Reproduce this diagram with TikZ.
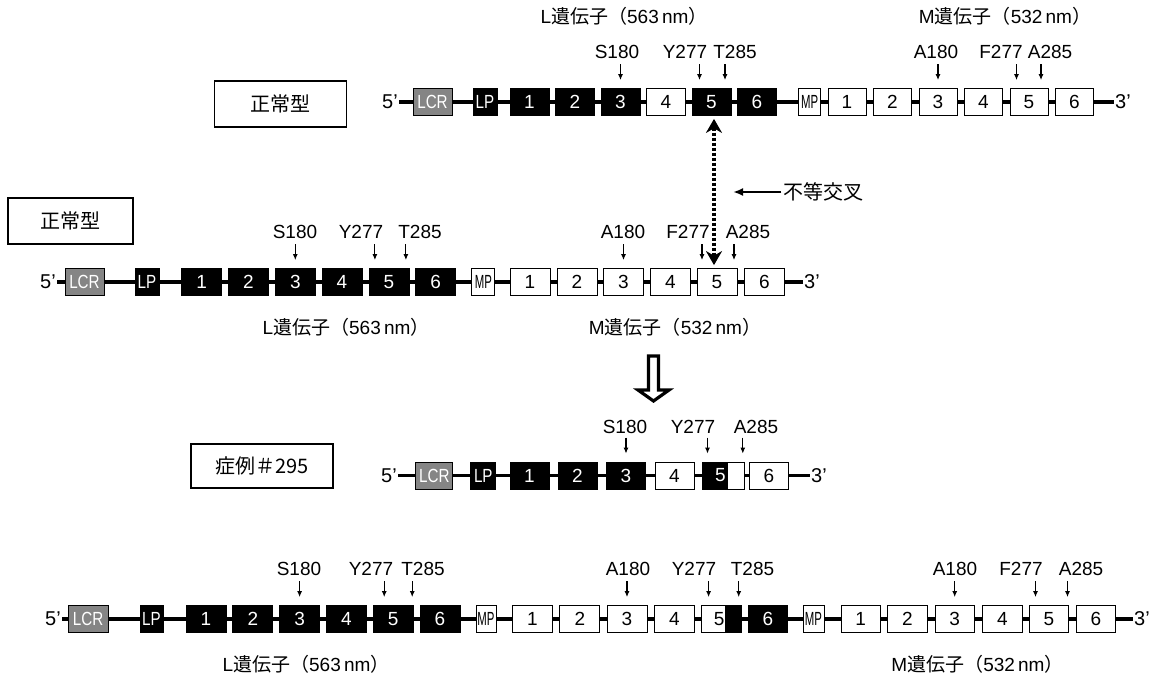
\documentclass[tikz,border=0pt]{standalone}
\usepackage{fontspec}
\setmainfont{Liberation Sans}
\newfontfamily\jp{Noto Sans CJK JP}
\usepackage{graphicx}
\usetikzlibrary{arrows.meta}

\begin{document}
\begin{tikzpicture}[x=1pt,y=-1pt,
  exon/.style={draw,line width=0.8pt,minimum height=27pt,minimum width=39pt,inner sep=0pt,font=\fontsize{19}{19}\selectfont},
  blk/.style={exon,fill=black,text=white},
  wht/.style={exon,fill=white},
  lcr/.style={exon,fill=black!48,text=white},
  bb/.style={line width=3.2pt},
  endtxt/.style={inner sep=1pt,font=\fontsize{20}{20}\selectfont},
  sitetxt/.style={inner sep=0pt,font=\fontsize{19}{19}\selectfont},
  mut/.style={-{Latex[length=6pt,width=5pt]},line width=1.1pt,shorten >=8pt},
  casebox/.style={draw,line width=1.7pt,minimum height=46pt,inner sep=0pt,font=\jp\fontsize{20}{20}\selectfont},
  genetitle/.style={inner sep=0pt,font=\fontsize{19}{19}\selectfont},
  xover/.style={{Stealth[length=14pt,width=16pt]}-{Stealth[length=14pt,width=16pt]},line width=3.2pt,dash pattern=on 3pt off 2pt,shorten <=3pt,shorten >=3pt}]
\useasboundingbox (0,0) rectangle (1156,679);

%上段 正常型
\node[casebox,minimum width=132pt] (tagA) at (280.6,104) {正常型};
\node[genetitle] (aLt) at (624,16) {L{\jp 遺伝子（}563\,nm{\jp ）}};
\node[genetitle] (aMt) at (1005,16) {M{\jp 遺伝子（}532\,nm{\jp ）}};
\node[endtxt,anchor=east] (a5) at (399,102) {5’};
\node[lcr] (alcr) at (432.5,102) {\scalebox{0.8}[1]{LCR}};
\node[blk,minimum width=24pt] (alp) at (485,102) {\scalebox{0.8}[1]{LP}};
\node[blk] (aL1) at (529.5,102) {1};
\node[blk] (aL2) at (575,102) {2};
\node[blk] (aL3) at (620.5,102) {3};
\node[wht] (aL4) at (666,102) {4};
\node[blk] (aL5) at (711.5,102) {5};
\node[blk] (aL6) at (757,102) {6};
\node[wht,minimum width=22pt] (amp) at (809.6,102) {\scalebox{0.6}[1]{MP}};
\node[wht,minimum width=38pt] (aM1) at (847,102) {1};
\node[wht,minimum width=38pt] (aM2) at (892.5,102) {2};
\node[wht,minimum width=38pt] (aM3) at (938,102) {3};
\node[wht,minimum width=38pt] (aM4) at (983.5,102) {4};
\node[wht,minimum width=38pt] (aM5) at (1029,102) {5};
\node[wht,minimum width=38pt] (aM6) at (1074.5,102) {6};
\node[endtxt,anchor=west] (a3) at (1114,102) {3’};
\draw[bb] (a5)--(alcr)--(alp)--(aL1)--(aL2)--(aL3)--(aL4)--(aL5)--(aL6)--(amp)--(aM1)--(aM2)--(aM3)--(aM4)--(aM5)--(aM6)--(a3);

%変異部位
\node[sitetxt] (aS180) at (617,52) {S180};
\node[sitetxt] (aY277) at (685,52) {Y277};
\node[sitetxt] (aT285) at (735,52) {T285};
\node[sitetxt] (aA180) at (936,52) {A180};
\node[sitetxt] (aF277) at (1001,52) {F277};
\node[sitetxt] (aA285) at (1050,52) {A285};
\draw[mut] ([yshift=24pt]aL3.north) -- (aL3.north);
\draw[mut] ([xshift=-12pt,yshift=24pt]aL5.north) -- ([xshift=-12pt]aL5.north);
\draw[mut] ([xshift=13.5pt,yshift=24pt]aL5.north) -- ([xshift=13.5pt]aL5.north);
\draw[mut] ([yshift=24pt]aM3.north) -- (aM3.north);
\draw[mut] ([xshift=-12.5pt,yshift=24pt]aM5.north) -- ([xshift=-12.5pt]aM5.north);
\draw[mut] ([xshift=12pt,yshift=24pt]aM5.north) -- ([xshift=12pt]aM5.north);

%二段目 正常型
\node[casebox,minimum width=125pt] (tagB) at (70.5,221) {正常型};
\node[endtxt,anchor=east] (b5) at (57,282) {5’};
\node[lcr] (blcr) at (84.5,282) {\scalebox{0.8}[1]{LCR}};
\node[blk,minimum width=24pt] (blp) at (147,282) {\scalebox{0.8}[1]{LP}};
\node[blk,minimum width=40pt] (bL1) at (201.7,282) {1};
\node[blk,minimum width=40pt] (bL2) at (248.5,282) {2};
\node[blk,minimum width=40pt] (bL3) at (295.3,282) {3};
\node[blk,minimum width=40pt] (bL4) at (342,282) {4};
\node[blk,minimum width=40pt] (bL5) at (388.9,282) {5};
\node[blk,minimum width=40pt] (bL6) at (435.7,282) {6};
\node[wht,minimum width=23pt] (bmp) at (483.3,282) {\scalebox{0.6}[1]{MP}};
\node[wht,minimum width=40pt] (bM1) at (530,282) {1};
\node[wht,minimum width=40pt] (bM2) at (577,282) {2};
\node[wht,minimum width=40pt] (bM3) at (623.5,282) {3};
\node[wht,minimum width=40pt] (bM4) at (670.5,282) {4};
\node[wht,minimum width=40pt] (bM5) at (717,282) {5};
\node[wht,minimum width=40pt] (bM6) at (764.5,282) {6};
\node[endtxt,anchor=west] (b3) at (803,282) {3’};
\draw[bb] (b5)--(blcr)--(blp)--(bL1)--(bL2)--(bL3)--(bL4)--(bL5)--(bL6)--(bmp)--(bM1)--(bM2)--(bM3)--(bM4)--(bM5)--(bM6)--(b3);
\node[genetitle] (bLt) at (346,327) {L{\jp 遺伝子（}563\,nm{\jp ）}};
\node[genetitle] (bMt) at (675,327) {M{\jp 遺伝子（}532\,nm{\jp ）}};

\node[sitetxt] (bS180) at (295,232) {S180};
\node[sitetxt] (bY277) at (361,232) {Y277};
\node[sitetxt] (bT285) at (420,232) {T285};
\node[sitetxt] (bA180) at (623,232) {A180};
\node[sitetxt] (bF277) at (688,232) {F277};
\node[sitetxt] (bA285) at (748,232) {A285};
\draw[mut] ([yshift=24pt]bL3.north) -- (bL3.north);
\draw[mut] ([xshift=-14pt,yshift=24pt]bL5.north) -- ([xshift=-14pt]bL5.north);
\draw[mut] ([xshift=17pt,yshift=24pt]bL5.north) -- ([xshift=17pt]bL5.north);
\draw[mut] ([yshift=24pt]bM3.north) -- (bM3.north);
\draw[mut] ([xshift=-15pt,yshift=24pt]bM5.north) -- ([xshift=-15pt]bM5.north);
\draw[mut] ([xshift=17pt,yshift=24pt]bM5.north) -- ([xshift=17pt]bM5.north);

%不等交叉
\draw[xover] ([xshift=2.5pt]aL5.south) -- ([xshift=-3pt]bM5.north);
\node[inner sep=2pt,font=\jp\fontsize{20}{20}\selectfont] (uneq) at (823.5,192) {不等交叉};
\coordinate (uneqtip) at (733,192);
\draw[-{Latex[length=10pt,width=8pt]},line width=2pt] (uneq) -- (uneqtip);

%白抜き矢印
\draw[line width=3.2pt] (648.5,356) -- (658.5,356) -- (658.5,390) -- (669,390) -- (653.5,401) -- (638,390) -- (648.5,390) -- cycle;

%症例#295
\node[casebox,minimum width=142pt,minimum height=44pt] (tagC) at (262,466) {症例＃295};
\node[endtxt,anchor=east] (c5p) at (398,475.5) {5’};
\node[lcr,minimum width=37pt] (clcr) at (434.3,475.5) {\scalebox{0.8}[1]{LCR}};
\node[blk,minimum width=25pt] (clp) at (483.3,475.5) {\scalebox{0.8}[1]{LP}};
\node[blk] (cL1) at (529.5,475.5) {1};
\node[blk] (cL2) at (577.5,475.5) {2};
\node[blk] (cL3) at (626,475.5) {3};
\node[wht] (cL4) at (674.5,475.5) {4};
\node[blk,minimum width=25.5pt] (cL5) at (714.8,475.5) {\makebox[22pt][r]{5}};
\node[wht,minimum width=16.5pt] (cM5) at (735.8,475.5) {};
\node[wht] (cM6) at (769,475.5) {6};
\node[endtxt,anchor=west] (c3) at (810,475.5) {3’};
\draw[bb] (c5p)--(clcr)--(clp)--(cL1)--(cL2)--(cL3)--(cL4)--(cL5);
\draw[bb] (cM5)--(cM6)--(c3);

\node[sitetxt] (cS180) at (625,427) {S180};
\node[sitetxt] (cY277) at (693,427) {Y277};
\node[sitetxt] (cA285) at (756,427) {A285};
\draw[mut] ([yshift=24pt]cL3.north) -- (cL3.north);
\draw[mut] ([xshift=-7.3pt,yshift=24pt]cL5.north) -- ([xshift=-7.3pt]cL5.north);
\draw[mut] ([xshift=7pt,yshift=24pt]cM5.north) -- ([xshift=7pt]cM5.north);

%下段 L-ハイブリッド-M
\node[endtxt,anchor=east] (d5) at (62,619) {5’};
\node[lcr,minimum width=39.6pt] (dlcr) at (88.2,619) {\scalebox{0.8}[1]{LCR}};
\node[blk,minimum width=23pt] (dlp) at (151.4,619) {\scalebox{0.8}[1]{LP}};
\node[blk,minimum width=40pt] (dL1) at (206,619) {1};
\node[blk,minimum width=40pt] (dL2) at (252.8,619) {2};
\node[blk,minimum width=40pt] (dL3) at (299.6,619) {3};
\node[blk,minimum width=40pt] (dL4) at (346.4,619) {4};
\node[blk,minimum width=40pt] (dL5) at (393.2,619) {5};
\node[blk,minimum width=40pt] (dL6) at (440,619) {6};
\node[wht,minimum width=20pt] (dmp) at (486,619) {\scalebox{0.6}[1]{MP}};
\node[wht,minimum width=40pt] (dH1) at (532.5,619) {1};
\node[wht,minimum width=40pt] (dH2) at (579.8,619) {2};
\node[wht,minimum width=40pt] (dH3) at (627,619) {3};
\node[wht,minimum width=40pt] (dH4) at (674.3,619) {4};
\node[wht,minimum width=24pt] (dH5) at (713,619) {\makebox[23pt][r]{5}};
\node[blk,minimum width=16.6pt] (dH5b) at (733.3,619) {};
\node[blk,minimum width=39.6pt] (dH6) at (767.8,619) {6};
\node[wht,minimum width=21pt] (dmp2) at (813.5,619) {\scalebox{0.6}[1]{MP}};
\node[wht,minimum width=39.5pt] (dM1) at (860.7,619) {1};
\node[wht,minimum width=39.5pt] (dM2) at (907.5,619) {2};
\node[wht,minimum width=39.5pt] (dM3) at (954.7,619) {3};
\node[wht,minimum width=39.5pt] (dM4) at (1002.3,619) {4};
\node[wht,minimum width=39.5pt] (dM5) at (1048.8,619) {5};
\node[wht,minimum width=39.5pt] (dM6) at (1095.8,619) {6};
\node[endtxt,anchor=west] (d3) at (1133,619) {3’};
\draw[bb] (d5)--(dlcr)--(dlp)--(dL1)--(dL2)--(dL3)--(dL4)--(dL5)--(dL6)--(dmp)--(dH1)--(dH2)--(dH3)--(dH4)--(dH5);
\draw[bb] (dH5b)--(dH6)--(dmp2)--(dM1)--(dM2)--(dM3)--(dM4)--(dM5)--(dM6)--(d3);
\node[genetitle] (dLt) at (306,664) {L{\jp 遺伝子（}563\,nm{\jp ）}};
\node[genetitle] (dMt) at (977.5,664) {M{\jp 遺伝子（}532\,nm{\jp ）}};

\node[sitetxt] (dS180) at (299,569) {S180};
\node[sitetxt] (dY277) at (371,569) {Y277};
\node[sitetxt] (dT285) at (423,569) {T285};
\node[sitetxt] (dA180h) at (628,569) {A180};
\node[sitetxt] (dY277h) at (694,569) {Y277};
\node[sitetxt] (dT285h) at (752.5,569) {T285};
\node[sitetxt] (dA180) at (955,569) {A180};
\node[sitetxt] (dF277) at (1021,569) {F277};
\node[sitetxt] (dA285) at (1081,569) {A285};
\draw[mut] ([yshift=24pt]dL3.north) -- (dL3.north);
\draw[mut] ([xshift=-9pt,yshift=24pt]dL5.north) -- ([xshift=-9pt]dL5.north);
\draw[mut] ([xshift=19pt,yshift=24pt]dL5.north) -- ([xshift=19pt]dL5.north);
\draw[mut] ([yshift=24pt]dH3.north) -- (dH3.north);
\draw[mut] ([xshift=-4.4pt,yshift=24pt]dH5.north) -- ([xshift=-4.4pt]dH5.north);
\draw[mut] ([xshift=5.4pt,yshift=24pt]dH5b.north) -- ([xshift=5.4pt]dH5b.north);
\draw[mut] ([yshift=24pt]dM3.north) -- (dM3.north);
\draw[mut] ([xshift=-13.3pt,yshift=24pt]dM5.north) -- ([xshift=-13.3pt]dM5.north);
\draw[mut] ([xshift=18.7pt,yshift=24pt]dM5.north) -- ([xshift=18.7pt]dM5.north);
\end{tikzpicture}
\end{document}
